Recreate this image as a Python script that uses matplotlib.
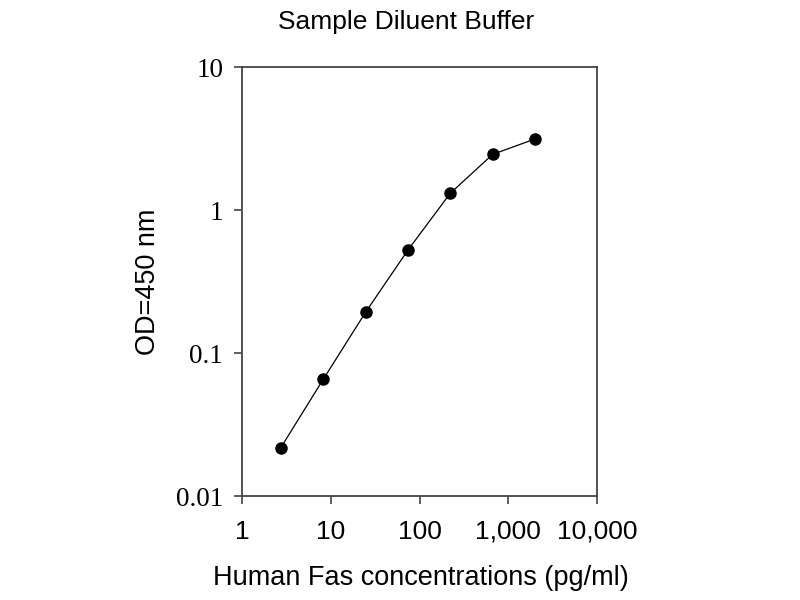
import numpy as np
import matplotlib
matplotlib.use('Agg')
import matplotlib.pyplot as plt
from matplotlib.ticker import FixedLocator, NullLocator

# Human Fas standard curve, sample diluent buffer
conc = [2.74, 8.23, 24.7, 74.1, 222.2, 666.7, 2000.0]
od450 = [0.0218, 0.0655, 0.193, 0.525, 1.31, 2.45, 3.14]

x_ticks = [1, 10, 100, 1000, 10000]
x_labels = ['1', '10', '100', '1,000', '10,000']
y_ticks = [0.01, 0.1, 1, 10]
y_labels = ['0.01', '0.1', '1', '10']

sans = 'Liberation Sans'
serif = 'Liberation Serif'

fig = plt.figure(figsize=(8, 6), dpi=100)
ax = fig.add_axes([0.3025, 0.1733, 0.4438, 0.715])

ax.plot(conc, od450, color='black', linewidth=0.9, marker='o',
        markersize=8, markerfacecolor='black', markeredgecolor='black')

ax.set_xscale('log')
ax.set_yscale('log')
ax.set_xlim(1, 10000)
ax.set_ylim(0.01, 10)

ax.xaxis.set_major_locator(FixedLocator(x_ticks))
ax.xaxis.set_minor_locator(NullLocator())
ax.yaxis.set_major_locator(FixedLocator(y_ticks))
ax.yaxis.set_minor_locator(NullLocator())
ax.set_xticklabels(x_labels, fontfamily=sans, fontsize=19)
ax.set_yticklabels(y_labels, fontfamily=serif, fontsize=19.5)

ax.tick_params(axis='both', direction='out', length=6, width=1.2, color='#444444')
ax.tick_params(axis='x', pad=11)
ax.tick_params(axis='y', pad=7.5)

for sp in ax.spines.values():
    sp.set_linewidth(1.3)
    sp.set_color('#444444')

ax.set_xlabel('Human Fas concentrations (pg/ml)', fontfamily=sans, fontsize=19.5, va='center')
ax.xaxis.set_label_coords(0.505, -0.191)
ax.set_ylabel('OD=450 nm', fontfamily=sans, fontsize=19.5, va='center')
ax.yaxis.set_label_coords(-0.265, 0.5)
fig.text(0.5075, 0.963, 'Sample Diluent Buffer', fontfamily=sans, fontsize=19,
         ha='center', va='center')

fig.savefig('out.png', dpi=100)
